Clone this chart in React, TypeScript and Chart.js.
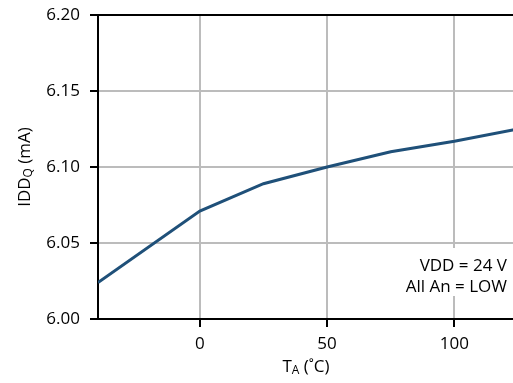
import React, { useEffect, useRef } from "react";
import { Chart, registerables } from "chart.js";
Chart.register(...registerables);

const temperatures = [-40, 0, 25, 50, 75, 100, 125];
const iddq = [6.024, 6.071, 6.089, 6.1, 6.11, 6.117, 6.125];
const xTicks = [0, 50, 100];
const xMin = -40;
const xMax = 125;
const yMin = 6.0;
const yMax = 6.2;
const yStep = 0.05;
const yTitle: [string, boolean][] = [["IDD", false], ["Q", true], [" (mA)", false]];
const xTitle: [string, boolean][] = [["T", false], ["A", true], [" (˚C)", false]];
const noteLines = ["VDD = 24 V", "All An = LOW"];

const FONT = "'Open Sans', sans-serif";
const MAIN = 17;
const SUB = 12;

function segWidth(ctx: CanvasRenderingContext2D, segs: [string, boolean][]) {
  let w = 0;
  for (const [t, s] of segs) {
    ctx.font = `${s ? SUB : MAIN}px ${FONT}`;
    w += ctx.measureText(t).width;
  }
  return w;
}

function drawSegs(ctx: CanvasRenderingContext2D, segs: [string, boolean][], cx: number, cy: number) {
  const total = segWidth(ctx, segs);
  let x = cx - total / 2;
  ctx.textBaseline = "middle";
  ctx.textAlign = "left";
  ctx.fillStyle = "#000";
  for (const [t, s] of segs) {
    ctx.font = `${s ? SUB : MAIN}px ${FONT}`;
    ctx.fillText(t, x, s ? cy + 4 : cy);
    x += ctx.measureText(t).width;
  }
}

const decorPlugin = {
  id: "decor",
  afterDraw(chart: any) {
    const ctx: CanvasRenderingContext2D = chart.ctx;
    const a = chart.chartArea;
    ctx.save();
    ctx.strokeStyle = "#000";
    ctx.lineWidth = 2;
    ctx.beginPath();
    ctx.moveTo(a.left - 1, a.top);
    ctx.lineTo(a.right + 2, a.top);
    ctx.stroke();
    ctx.fillStyle = "#fff";
    ctx.fillRect(394, 248, 118, 48);
    ctx.fillStyle = "#000";
    ctx.font = `${MAIN}px ${FONT}`;
    ctx.textAlign = "right";
    ctx.textBaseline = "middle";
    ctx.fillText(noteLines[0], 507, 266);
    ctx.fillText(noteLines[1], 507, 287);
    drawSegs(ctx, xTitle, (a.left + a.right) / 2 - 2, 367);
    ctx.translate(25, (a.top + a.bottom) / 2);
    ctx.rotate(-Math.PI / 2);
    drawSegs(ctx, yTitle, 0, 0);
    ctx.restore();
  },
};

export default function App() {
  const ref = useRef<HTMLCanvasElement>(null);
  useEffect(() => {
    if (!ref.current) return;
    const points = temperatures.map((t, i) => ({ x: t, y: iddq[i] }));
    const chart = new Chart(ref.current, {
      type: "line",
      data: {
        datasets: [
          {
            data: points,
            borderColor: "#1f5079",
            borderWidth: 3,
            pointRadius: 0,
            tension: 0,
            fill: false,
          },
        ],
      },
      options: {
        animation: false,
        responsive: false,
        layout: { padding: { top: 15, right: 12, left: 0, bottom: 0 } },
        plugins: { legend: { display: false }, tooltip: { enabled: false } },
        scales: {
          x: {
            type: "linear",
            min: xMin,
            max: xMax,
            afterBuildTicks: (scale: any) => {
              scale.ticks = xTicks.map((v) => ({ value: v }));
            },
            afterFit: (scale: any) => {
              scale.height = 64;
              scale.paddingLeft = 0;
              scale.paddingRight = 0;
            },
            grid: { color: "#bcbcbc", lineWidth: 2, tickColor: "#000", tickLength: 8 },
            border: { display: true, color: "#000", width: 2 },
            ticks: {
              color: "#000",
              font: { family: FONT, size: MAIN },
              padding: 7,
              maxRotation: 0,
              callback: (v: any) => String(v),
            },
          },
          y: {
            type: "linear",
            min: yMin,
            max: yMax,
            afterFit: (scale: any) => {
              scale.width = 98;
              scale.paddingTop = 0;
              scale.paddingBottom = 0;
            },
            grid: { color: "#bcbcbc", lineWidth: 2, tickColor: "#000", tickLength: 8 },
            border: { display: true, color: "#000", width: 2 },
            ticks: {
              stepSize: yStep,
              color: "#000",
              font: { family: FONT, size: MAIN },
              padding: 10,
              callback: (v: any) => Number(v).toFixed(2),
            },
          },
        },
      },
      plugins: [decorPlugin],
    });
    return () => chart.destroy();
  }, []);
  return (
    <div
      style={{
        position: "fixed",
        left: 0,
        top: 0,
        width: 513,
        height: 383,
        overflow: "hidden",
        background: "#fff",
      }}
    >
      <canvas ref={ref} width={530} height={383} style={{ display: "block" }} />
    </div>
  );
}
